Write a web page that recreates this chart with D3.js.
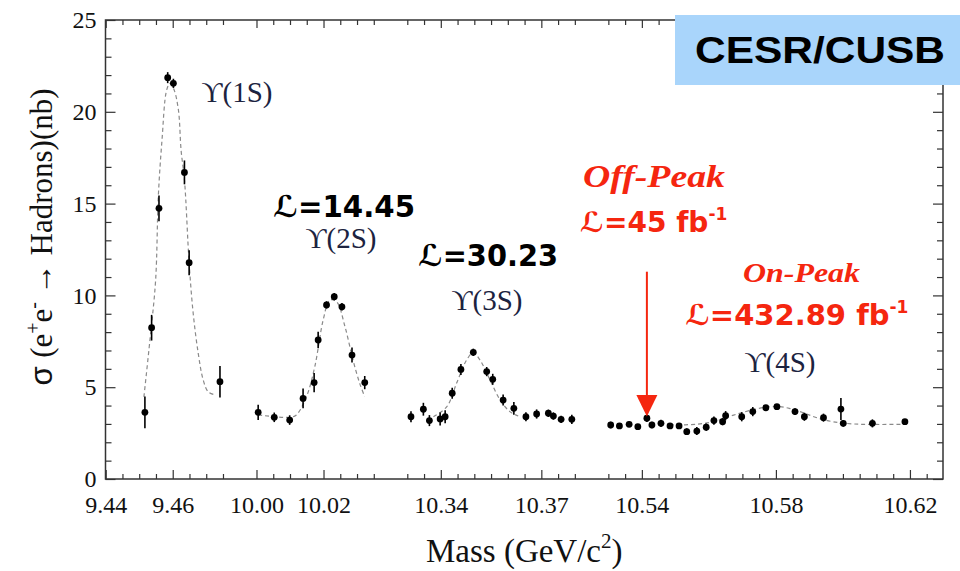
<!DOCTYPE html>
<html><head><meta charset="utf-8">
<script src="https://cdn.jsdelivr.net/npm/d3@7"></script>
<style>body{margin:0;background:#fff}</style>
</head><body><svg id="c" width="960" height="571"></svg>
<script>
// ---- axis definition (broken mass axis) ----
const segDomains = [[9.44, 9.475], [10.00, 10.035], [10.33, 10.38], [10.53, 10.625]];
const segGap = 0.01;
const majorTicks = [9.44, 9.46, 10.00, 10.02, 10.34, 10.37, 10.54, 10.58, 10.62];
const yTicks = [0, 5, 10, 15, 20, 25];

// ---- data: Upsilon(1S) ----
const mass1S  = [9.4517, 9.4537, 9.4559, 9.4585, 9.4602, 9.4635, 9.4649, 9.4741];
const sigma1S = [3.63, 8.24, 14.74, 21.86, 21.55, 16.70, 11.78, 5.30];
const err1S   = [0.87, 0.70, 0.70, 0.30, 0.25, 0.65, 0.68, 0.86];
const fitMass1S  = [9.4514, 9.4532, 9.4549, 9.4557, 9.4568, 9.4582, 9.4592, 9.4604, 9.4617, 9.4625, 9.4635, 9.4649, 9.4661, 9.4676, 9.4691, 9.4706, 9.4726];
const fitSigma1S = [4.47, 7.57, 10.84, 15.38, 18.46, 21.19, 21.55, 21.20, 20.10, 17.90, 16.30, 11.76, 9.04, 6.86, 5.39, 4.75, 4.58];

// ---- data: Upsilon(2S) ----
const mass2S  = [10.0005, 10.0053, 10.0099, 10.0139, 10.0172, 10.0184, 10.0209, 10.0232, 10.0255, 10.0285, 10.0323];
const sigma2S = [3.63, 3.36, 3.21, 4.39, 5.25, 7.57, 9.48, 9.93, 9.38, 6.75, 5.25];
const err2S   = [0.41, 0.26, 0.26, 0.54, 0.53, 0.45, 0.20, 0.20, 0.20, 0.41, 0.36];
const fitMass2S  = [10.0005, 10.0099, 10.0119, 10.0149, 10.0174, 10.0199, 10.0219, 10.0239, 10.0264, 10.0288, 10.0308, 10.0323];
const fitSigma2S = [3.49, 3.36, 3.49, 4.48, 6.12, 8.66, 9.75, 9.66, 8.30, 6.48, 5.21, 4.48];

// ---- data: Upsilon(3S) ----
const mass3S  = [10.3311, 10.3348, 10.3366, 10.3398, 10.3413, 10.3434, 10.3460, 10.3497, 10.3537, 10.3555, 10.3586, 10.3618, 10.3654, 10.3686, 10.3721, 10.3736, 10.3759, 10.3791];
const sigma3S = [3.39, 3.80, 3.18, 3.27, 3.39, 4.67, 5.97, 6.90, 5.85, 5.43, 4.30, 3.85, 3.39, 3.54, 3.58, 3.43, 3.25, 3.25];
const err3S   = [0.30, 0.35, 0.30, 0.35, 0.35, 0.30, 0.30, 0.20, 0.25, 0.30, 0.30, 0.35, 0.25, 0.25, 0.20, 0.20, 0.20, 0.25];
const fitMass3S  = [10.3378, 10.3418, 10.3447, 10.3477, 10.3497, 10.3517, 10.3547, 10.3577, 10.3606, 10.3631];
const fitSigma3S = [3.39, 3.94, 5.21, 6.48, 6.88, 6.48, 5.39, 4.30, 3.67, 3.43];

// ---- data: Upsilon(4S) ----
const mass4S  = [10.5307, 10.5333, 10.5362, 10.5388, 10.5415, 10.5430, 10.5457, 10.5484, 10.5511, 10.5534, 10.5564, 10.5592, 10.5615, 10.5641, 10.5650, 10.5698, 10.5731, 10.5770, 10.5803, 10.5857, 10.5885, 10.5942, 10.5994, 10.6001, 10.6088, 10.6185];
const sigma4S = [2.94, 2.89, 2.98, 2.85, 3.31, 2.94, 3.03, 2.89, 2.89, 2.58, 2.61, 2.82, 3.18, 3.12, 3.45, 3.39, 3.67, 3.88, 3.94, 3.67, 3.39, 3.34, 3.81, 3.03, 3.03, 3.12];
const err4S   = [0.18, 0.15, 0.15, 0.15, 0.20, 0.18, 0.20, 0.15, 0.15, 0.18, 0.22, 0.20, 0.22, 0.20, 0.25, 0.25, 0.25, 0.15, 0.15, 0.18, 0.22, 0.22, 0.60, 0.18, 0.22, 0.15];
const fitMass4S  = [10.5484, 10.5564, 10.5620, 10.5660, 10.5700, 10.5750, 10.5800, 10.5840, 10.5880, 10.5920, 10.5970, 10.6030, 10.6100, 10.6190];
const fitSigma4S = [2.95, 2.98, 3.15, 3.40, 3.62, 3.85, 3.95, 3.85, 3.62, 3.35, 3.12, 3.00, 2.97, 2.98];

const resLabels = ["\u03D2(1S)", "\u03D2(2S)", "\u03D2(3S)", "\u03D2(4S)"];

// ---- layout ----
const plotL = 105.5, plotR = 943, plotT = 20, plotB = 479;
const xStart = 105.7, xEnd = 926.7;

const svg = d3.select("#c");

const spans = segDomains.map(d => d[1] - d[0]);
const total = d3.sum(spans) + segGap * (segDomains.length - 1);
const k = (xEnd - xStart) / total;
let off = 0;
const segScales = segDomains.map((d, i) => {
  const s = d3.scaleLinear().domain(d).range([xStart + k * off, xStart + k * (off + spans[i])]);
  off += spans[i] + segGap;
  return s;
});
function segIndex(m) {
  let best = 0, bd = Infinity;
  segDomains.forEach((d, i) => {
    const dist = m < d[0] ? d[0] - m : (m > d[1] ? m - d[1] : 0);
    if (dist < bd) { bd = dist; best = i; }
  });
  return best;
}
const x = m => segScales[segIndex(m)](m);
const y = d3.scaleLinear().domain([0, 25]).range([plotB, plotT]);

const tickColor = "#333";
const serif = "'Liberation Serif', 'Times New Roman', serif";

// ---- x axes (bottom + top), per segment ----
segScales.forEach((s, i) => {
  const d = segDomains[i];
  const all = d3.range(Math.round(d[0] * 1000), Math.round(d[1] * 1000) + 1, 5).map(v => v / 1000);
  const majors = majorTicks.filter(t => t >= d[0] - 1e-9 && t <= d[1] + 1e-9);
  const minors = all.filter(t => !majors.some(m => Math.abs(m - t) < 1e-9));
  const styleAxis = g => {
    g.select(".domain").remove();
    g.selectAll("line").attr("stroke", tickColor).attr("stroke-width", 1.2);
    g.selectAll("text").attr("fill", "#111").attr("font-family", serif).attr("font-size", 24);
  };
  svg.append("g").attr("transform", `translate(0,${plotB})`)
    .call(d3.axisBottom(s).tickValues(minors).tickSize(-5).tickFormat("")).call(styleAxis);
  svg.append("g").attr("transform", `translate(0,${plotB})`)
    .call(d3.axisBottom(s).tickValues(majors).tickSize(-9).tickPadding(17).tickFormat(d3.format(".2f"))).call(styleAxis);
  svg.append("g").attr("transform", `translate(0,${plotT})`)
    .call(d3.axisTop(s).tickValues(minors).tickSize(-5).tickFormat("")).call(styleAxis);
  svg.append("g").attr("transform", `translate(0,${plotT})`)
    .call(d3.axisTop(s).tickValues(majors).tickSize(-8).tickFormat("")).call(styleAxis);
});

// ---- y axes ----
const yMinor = d3.range(0, 26).filter(v => v % 5 !== 0);
const styleY = g => {
  g.select(".domain").remove();
  g.selectAll("line").attr("stroke", tickColor).attr("stroke-width", 1.2);
  g.selectAll("text").attr("fill", "#111").attr("font-family", serif).attr("font-size", 24);
};
svg.append("g").attr("transform", `translate(${plotL},0)`)
  .call(d3.axisLeft(y).tickValues(yMinor).tickSize(-6).tickFormat("")).call(styleY);
svg.append("g").attr("transform", `translate(${plotL},0)`)
  .call(d3.axisLeft(y).tickValues(yTicks).tickSize(-10).tickPadding(9).tickFormat(d3.format("d"))).call(styleY);
svg.append("g").attr("transform", `translate(${plotR},0)`)
  .call(d3.axisRight(y).tickValues(yMinor).tickSize(-6).tickFormat("")).call(styleY);
svg.append("g").attr("transform", `translate(${plotR},0)`)
  .call(d3.axisRight(y).tickValues(yTicks).tickSize(-10).tickFormat("")).call(styleY);

// frame
svg.append("rect").attr("x", plotL).attr("y", plotT).attr("width", plotR - plotL).attr("height", plotB - plotT)
  .attr("fill", "none").attr("stroke", tickColor).attr("stroke-width", 1.5);

// ---- curves and points ----
const series = [
  {m: mass1S, s: sigma1S, e: err1S, fm: fitMass1S, fs: fitSigma1S},
  {m: mass2S, s: sigma2S, e: err2S, fm: fitMass2S, fs: fitSigma2S},
  {m: mass3S, s: sigma3S, e: err3S, fm: fitMass3S, fs: fitSigma3S},
  {m: mass4S, s: sigma4S, e: err4S, fm: fitMass4S, fs: fitSigma4S}
];
const line = d3.line().x(d => x(d[0])).y(d => y(d[1])).curve(d3.curveCatmullRom.alpha(0.5));
series.forEach(sr => {
  const fit = sr.fm.map((m, i) => [m, sr.fs[i]]);
  svg.append("path").attr("d", line(fit)).attr("fill", "none")
    .attr("stroke", "#8a8a8a").attr("stroke-width", 1.2).attr("stroke-dasharray", "4,3");
});
series.forEach(sr => {
  const pts = sr.m.map((m, i) => ({m, v: sr.s[i], e: sr.e[i]}));
  const g = svg.append("g");
  g.selectAll("line.eb").data(pts).join("line")
    .attr("x1", d => x(d.m)).attr("x2", d => x(d.m))
    .attr("y1", d => y(d.v - d.e)).attr("y2", d => y(d.v + d.e))
    .attr("stroke", "#000").attr("stroke-width", 1.6);
  g.selectAll("circle").data(pts).join("circle")
    .attr("cx", d => x(d.m)).attr("cy", d => y(d.v)).attr("r", 3.4).attr("fill", "#000");
});

// ---- resonance labels ----
const resPos = [[237, 102], [341, 248], [487, 310], [780, 372]];
resLabels.forEach((t, i) => {
  svg.append("text").attr("x", resPos[i][0]).attr("y", resPos[i][1]).attr("text-anchor", "middle")
    .attr("font-family", serif).attr("font-size", 29).attr("fill", "#1c2340").text(t);
});

// ---- luminosity annotations ----
const bold = "'DejaVu Sans', Verdana, sans-serif";
const red = "#f5260f";
svg.append("text").attr("x", 273).attr("y", 217).attr("font-family", bold).attr("font-weight", "bold")
  .attr("font-size", 30).attr("fill", "#000").attr("textLength", 142).attr("lengthAdjust", "spacingAndGlyphs")
  .text("\u2112=14.45");
svg.append("text").attr("x", 418).attr("y", 266).attr("font-family", bold).attr("font-weight", "bold")
  .attr("font-size", 30).attr("fill", "#000").attr("textLength", 140).attr("lengthAdjust", "spacingAndGlyphs")
  .text("\u2112=30.23");

svg.append("text").attr("x", 583).attr("y", 187).attr("font-family", serif).attr("font-weight", "bold")
  .attr("font-style", "italic").attr("font-size", 32).attr("fill", red)
  .attr("textLength", 142).attr("lengthAdjust", "spacingAndGlyphs").text("Off-Peak");
const t45 = svg.append("text").attr("x", 580).attr("y", 232).attr("font-family", bold).attr("font-weight", "bold")
  .attr("font-size", 28).attr("fill", red);
t45.append("tspan").text("\u2112=45 fb");
t45.append("tspan").attr("font-size", 17).attr("dy", -12).text("-1");

svg.append("text").attr("x", 743).attr("y", 282).attr("font-family", serif).attr("font-weight", "bold")
  .attr("font-style", "italic").attr("font-size", 27).attr("fill", red)
  .attr("textLength", 117).attr("lengthAdjust", "spacingAndGlyphs").text("On-Peak");
const t432 = svg.append("text").attr("x", 685).attr("y", 325).attr("font-family", bold).attr("font-weight", "bold")
  .attr("font-size", 29).attr("fill", red);
t432.append("tspan").text("\u2112=432.89 fb");
t432.append("tspan").attr("font-size", 17).attr("dy", -12).text("-1");

// off-peak arrow
const ax = x(10.5415);
svg.append("line").attr("x1", ax).attr("x2", ax).attr("y1", 271.7).attr("y2", 396)
  .attr("stroke", red).attr("stroke-width", 2);
svg.append("path").attr("d", `M${ax - 10.5},395 L${ax + 10.5},395 L${ax},416.5 Z`).attr("fill", red);

// ---- axis titles ----
const xt = svg.append("text").attr("x", (plotL + plotR) / 2).attr("y", 562).attr("text-anchor", "middle")
  .attr("font-family", serif).attr("font-size", 33).attr("fill", "#111");
xt.append("tspan").text("Mass (GeV/c");
xt.append("tspan").attr("font-size", 21).attr("dy", -14).text("2");
xt.append("tspan").attr("dy", 14).text(")");

const yt = svg.append("text").attr("transform", "translate(52,237) rotate(-90)").attr("text-anchor", "middle")
  .attr("font-family", serif).attr("font-size", 31).attr("fill", "#111");
yt.append("tspan").attr("font-family", "'Liberation Sans', Arial, sans-serif").text("\u03C3 ");
yt.append("tspan").text("(e");
yt.append("tspan").attr("font-size", 20).attr("dy", -12).text("+");
yt.append("tspan").attr("dy", 12).text("e");
yt.append("tspan").attr("font-size", 20).attr("dy", -12).text("-");
yt.append("tspan").attr("dy", 12).text(" \u2192 Hadrons)(nb)");

// ---- CESR/CUSB box ----
svg.append("rect").attr("x", 675).attr("y", 15).attr("width", 285).attr("height", 70).attr("fill", "#a9d5fb");
svg.append("text").attr("x", 695).attr("y", 63).attr("font-family", "'Liberation Sans', Arial, sans-serif")
  .attr("font-weight", "bold").attr("font-size", 37).attr("fill", "#000")
  .attr("textLength", 250).attr("lengthAdjust", "spacingAndGlyphs").text("CESR/CUSB");
</script>
</body></html>
